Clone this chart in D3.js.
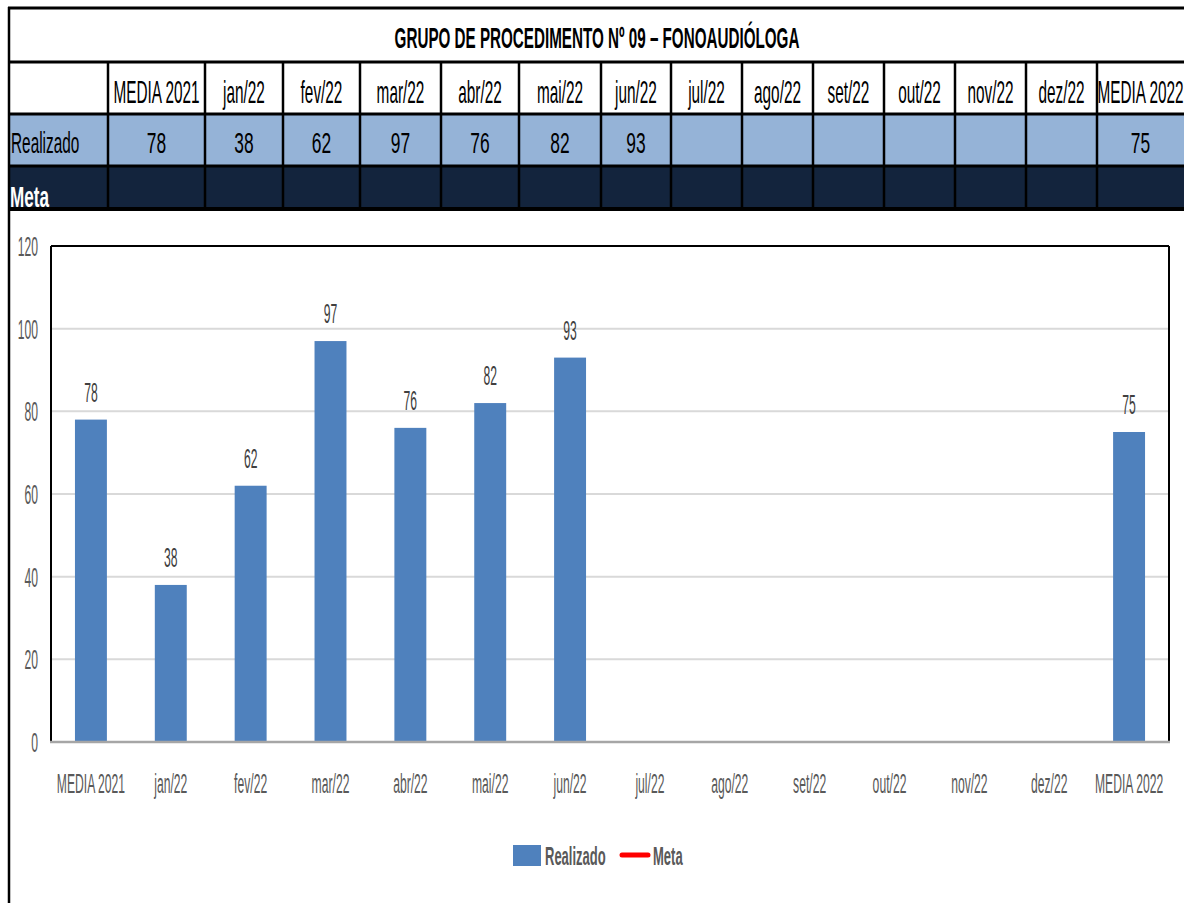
<!DOCTYPE html>
<html><head><meta charset="utf-8">
<script src="https://cdn.jsdelivr.net/npm/d3@7"></script>
<style>html,body{margin:0;padding:0;background:#fff;}svg{display:block;}</style>
</head><body>
<svg id="c" width="1184" height="903"></svg>
<script>
// ---- data ----
const title = "GRUPO DE PROCEDIMENTO Nº 09 – FONOAUDIÓLOGA";
const categories = ["MEDIA 2021","jan/22","fev/22","mar/22","abr/22","mai/22","jun/22","jul/22","ago/22","set/22","out/22","nov/22","dez/22","MEDIA 2022"];
const realizado = [78,38,62,97,76,82,93,null,null,null,null,null,null,75];
const meta = [null,null,null,null,null,null,null,null,null,null,null,null,null,null];
const yTicks = [0,20,40,60,80,100,120];
const seriesNames = ["Realizado","Meta"];

// ---- layout ----
const colEdges = [9,108,205,283,360,441,519,601,671,742,813,884,955,1026,1097,1184];
const rowEdges = [8,62,114,166,209];
const FONT = "'Liberation Sans', Arial, sans-serif";
const svg = d3.select("#c");

function ntext(parent, x, y, str, o) {
  const g = parent.append("g").attr("transform", `translate(${x},${y}) scale(${o.sx||0.55},1)`);
  const t = g.append("text").attr("x",0).attr("y",0)
    .attr("text-anchor", o.anchor||"middle")
    .attr("font-family", FONT).attr("font-size", o.size||27)
    .attr("font-weight", o.weight||"normal").attr("fill", o.fill||"#000").text(str);
  if (o.width) {
    const len = t.node().getComputedTextLength();
    g.attr("transform", `translate(${x},${y}) scale(${o.width/len},1)`);
  }
  return t;
}

// ---- table ----
const tbl = svg.append("g");
tbl.append("rect").attr("x",colEdges[0]).attr("y",rowEdges[2]).attr("width",1184-colEdges[0]).attr("height",rowEdges[3]-rowEdges[2]).attr("fill","#95B3D7");
tbl.append("rect").attr("x",colEdges[0]).attr("y",rowEdges[3]).attr("width",1184-colEdges[0]).attr("height",rowEdges[4]-rowEdges[3]).attr("fill","#13243D");

// title (scaled to the reference width)
ntext(tbl, 597, 48, title, {size:30, weight:"bold", width:405});

// header + values
categories.forEach((c,i)=>{
  const cx = (colEdges[i+1]+colEdges[i+2])/2;
  ntext(tbl, cx, 103, c, {size:32, sx:0.48});
  if (realizado[i]!=null) ntext(tbl, cx, 153, String(realizado[i]), {size:29, sx:0.6});
  if (meta[i]!=null) ntext(tbl, cx, 204, String(meta[i]), {size:29, sx:0.6, fill:"#fff"});
});
ntext(tbl, 11, 153, seriesNames[0], {size:29, sx:0.53, anchor:"start"});
ntext(tbl, 10, 207, seriesNames[1], {size:30, sx:0.57, anchor:"start", weight:"bold", fill:"#fff"});

// table lines
rowEdges.forEach((y,i)=>{
  tbl.append("line").attr("x1",colEdges[0]-1).attr("x2",1184).attr("y1",y).attr("y2",y)
    .attr("stroke","#000").attr("stroke-width", i===4?4:3);
});
colEdges.slice(1,-1).forEach(x=>{
  tbl.append("line").attr("x1",x).attr("x2",x).attr("y1",rowEdges[1]).attr("y2",rowEdges[4])
    .attr("stroke","#000").attr("stroke-width",2.5);
});
// left outer border (full page)
svg.append("line").attr("x1",colEdges[0]).attr("x2",colEdges[0]).attr("y1",rowEdges[0]-1).attr("y2",903)
  .attr("stroke","#000").attr("stroke-width",2.5);

// ---- chart ----
const plot = {l:51, r:1169, t:246, b:742};
const x = d3.scaleBand().domain(categories).range([plot.l, plot.r]).padding(0);
const y = d3.scaleLinear().domain([0,120]).range([plot.b, plot.t]);
const ch = svg.append("g");

// gridlines
ch.selectAll("line.grid").data(yTicks.filter(v=>v>0 && v<120)).join("line")
  .attr("x1",plot.l).attr("x2",plot.r).attr("y1",d=>y(d)).attr("y2",d=>y(d))
  .attr("stroke","#d9d9d9").attr("stroke-width",2);

// y tick labels
yTicks.forEach(v=>{
  ntext(ch, 38, y(v)+10, String(v), {size:27, sx:0.45, anchor:"end", fill:"#595959"});
});

// bars
const bw = x.bandwidth()*0.4;
const barData = categories.map((c,i)=>({c, v:realizado[i]})).filter(d=>d.v!=null);
ch.selectAll("rect.bar").data(barData).join("rect")
  .attr("x", d=>x(d.c)+x.bandwidth()/2-bw/2).attr("width",bw)
  .attr("y", d=>y(d.v)).attr("height", d=>y(0)-y(d.v))
  .attr("fill","#4F81BD");

// data labels
barData.forEach(d=>{
  ntext(ch, x(d.c)+x.bandwidth()/2, y(d.v)-18, String(d.v), {size:27, sx:0.45, fill:"#404040"});
});

// frame
ch.append("line").attr("x1",plot.l).attr("x2",plot.r).attr("y1",plot.t).attr("y2",plot.t).attr("stroke","#000").attr("stroke-width",2);
ch.append("line").attr("x1",plot.l).attr("x2",plot.l).attr("y1",plot.t).attr("y2",plot.b).attr("stroke","#000").attr("stroke-width",2);
ch.append("line").attr("x1",plot.r).attr("x2",plot.r).attr("y1",plot.t).attr("y2",plot.b).attr("stroke","#000").attr("stroke-width",2);
ch.append("line").attr("x1",plot.l-1).attr("x2",plot.r+1).attr("y1",plot.b).attr("y2",plot.b).attr("stroke","#a6a6a6").attr("stroke-width",2.5);

// x labels
categories.forEach(c=>{
  ntext(ch, x(c)+x.bandwidth()/2, 793, c, {size:27, sx:0.45, fill:"#595959"});
});

// legend
const lg = svg.append("g");
lg.append("rect").attr("x",513).attr("y",845).attr("width",28).attr("height",21).attr("fill","#4F81BD");
ntext(lg, 545, 865, seriesNames[0], {size:26, sx:0.5, anchor:"start", weight:"bold", fill:"#595959"});
lg.append("line").attr("x1",622).attr("x2",648).attr("y1",855).attr("y2",855)
  .attr("stroke","#FF0000").attr("stroke-width",5).attr("stroke-linecap","round");
ntext(lg, 653, 865, seriesNames[1], {size:26, sx:0.5, anchor:"start", weight:"bold", fill:"#595959"});
</script>
</body></html>
